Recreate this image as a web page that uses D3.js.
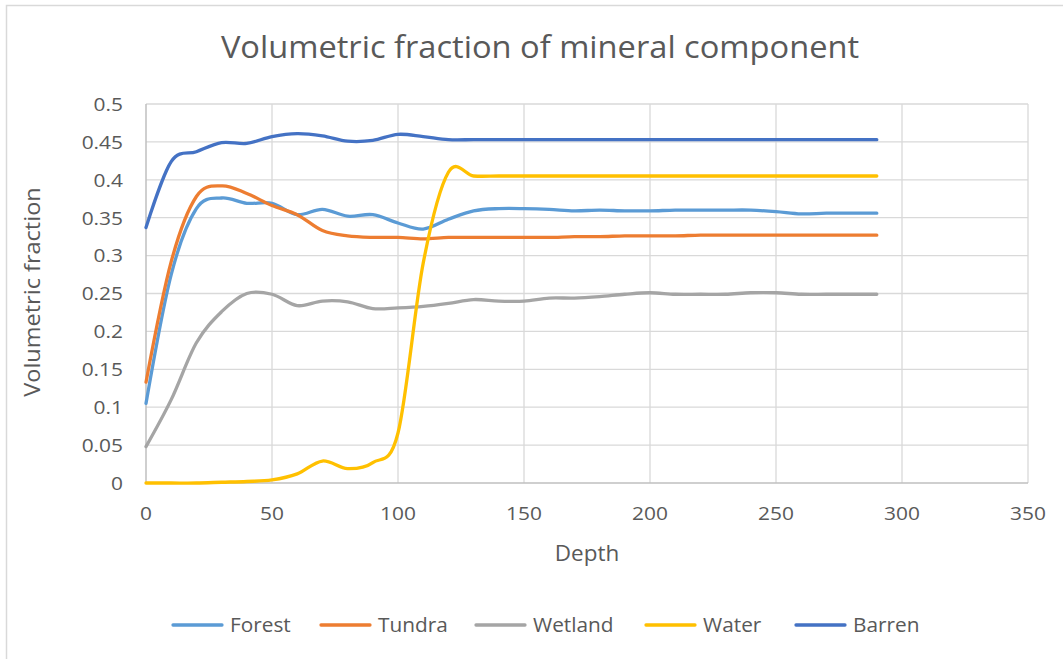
<!DOCTYPE html>
<html>
<head>
<meta charset="utf-8">
<script src="https://cdn.jsdelivr.net/npm/d3@7"></script>
<style>
  body { margin: 0; background: #fff; }
  text { font-family: "Open Sans", sans-serif; fill: #595959; }
</style>
</head>
<body>
<script>
var depth = [0, 10, 20, 30, 40, 50, 60, 70, 80, 90, 100, 110, 120, 130, 140, 150,
             160, 170, 180, 190, 200, 210, 220, 230, 240, 250, 260, 270, 280, 290];

var forest = [0.105, 0.275, 0.362, 0.376, 0.369, 0.369, 0.354, 0.361, 0.352, 0.354, 0.343, 0.335, 0.348, 0.359, 0.362, 0.362,
              0.361, 0.359, 0.360, 0.359, 0.359, 0.360, 0.360, 0.360, 0.360, 0.358, 0.355, 0.356, 0.356, 0.356];
var tundra = [0.133, 0.292, 0.378, 0.392, 0.382, 0.366, 0.354, 0.333, 0.326, 0.324, 0.324, 0.322, 0.324, 0.324, 0.324, 0.324,
              0.324, 0.325, 0.325, 0.326, 0.326, 0.326, 0.327, 0.327, 0.327, 0.327, 0.327, 0.327, 0.327, 0.327];
var wetland = [0.048, 0.110, 0.185, 0.226, 0.250, 0.249, 0.234, 0.240, 0.239, 0.230, 0.231, 0.233, 0.237, 0.242, 0.240, 0.240,
               0.244, 0.244, 0.246, 0.249, 0.251, 0.249, 0.249, 0.249, 0.251, 0.251, 0.249, 0.249, 0.249, 0.249];
var water = [0, 0, 0, 0.001, 0.002, 0.004, 0.012, 0.029, 0.019, 0.027, 0.066, 0.290, 0.410, 0.405, 0.405, 0.405,
             0.405, 0.405, 0.405, 0.405, 0.405, 0.405, 0.405, 0.405, 0.405, 0.405, 0.405, 0.405, 0.405, 0.405];
var barren = [0.337, 0.424, 0.437, 0.449, 0.448, 0.457, 0.461, 0.458, 0.451, 0.452, 0.460, 0.457, 0.453, 0.453, 0.453, 0.453,
              0.453, 0.453, 0.453, 0.453, 0.453, 0.453, 0.453, 0.453, 0.453, 0.453, 0.453, 0.453, 0.453, 0.453];

var seriesNames = ["Forest", "Tundra", "Wetland", "Water", "Barren"];
var seriesValues = [forest, tundra, wetland, water, barren];
var colors = ["#5b9bd5", "#ed7d31", "#a5a5a5", "#ffc000", "#4472c4"];

var xTicks = [0, 50, 100, 150, 200, 250, 300, 350];
var yTicks = [0, 0.05, 0.1, 0.15, 0.2, 0.25, 0.3, 0.35, 0.4, 0.45, 0.5];

var W = 1063, H = 659;
var svg = d3.select("body").append("svg").attr("width", W).attr("height", H);

// text in the original is a bit wider than Open Sans, stretch it sideways
function place(x, y, sx) {
  return "translate(" + x + "," + y + ") scale(" + sx + ",1)";
}

// chart border
svg.append("rect").attr("x", 6.5).attr("y", 5.5).attr("width", W + 10).attr("height", H + 10)
  .attr("fill", "none").attr("stroke", "#d9d9d9").attr("stroke-width", 1.5);

var x = d3.scaleLinear().domain([0, 350]).range([146, 1028]);
var y = d3.scaleLinear().domain([0, 0.5]).range([483, 104]);

// gridlines
svg.append("g").selectAll("line").data(yTicks.slice(1)).enter().append("line")
  .attr("x1", x(0)).attr("x2", x(350))
  .attr("y1", function(d) { return y(d); }).attr("y2", function(d) { return y(d); })
  .attr("stroke", "#d9d9d9").attr("stroke-width", 1.3);
svg.append("g").selectAll("line").data(xTicks.slice(1)).enter().append("line")
  .attr("y1", y(0)).attr("y2", y(0.5))
  .attr("x1", function(d) { return x(d); }).attr("x2", function(d) { return x(d); })
  .attr("stroke", "#d9d9d9").attr("stroke-width", 1.3);

// axis lines
svg.append("line").attr("x1", x(0)).attr("x2", x(0)).attr("y1", y(0)).attr("y2", y(0.5))
  .attr("stroke", "#bfbfbf").attr("stroke-width", 1.5);
svg.append("line").attr("x1", x(0)).attr("x2", x(350)).attr("y1", y(0)).attr("y2", y(0))
  .attr("stroke", "#bfbfbf").attr("stroke-width", 1.5);

// tick labels
svg.append("g").selectAll("text").data(yTicks).enter().append("text")
  .attr("transform", function(d) { return place(123, y(d), 1.1); })
  .attr("dy", "0.36em").attr("text-anchor", "end").style("font-size", "19px")
  .text(function(d) { return String(d); });
svg.append("g").selectAll("text").data(xTicks).enter().append("text")
  .attr("transform", function(d) { return place(x(d), 513, 1.1); })
  .attr("dy", "0.36em").attr("text-anchor", "middle").style("font-size", "19px")
  .text(function(d) { return d; });

// titles
svg.append("text").attr("transform", place(540, 58, 1.07)).attr("text-anchor", "middle")
  .style("font-size", "30.5px").text("Volumetric fraction of mineral component");
svg.append("text").attr("transform", place(587, 553, 1.07)).attr("dy", "0.36em").attr("text-anchor", "middle")
  .style("font-size", "21px").text("Depth");
svg.append("text").attr("transform", "translate(32,292) rotate(-90) scale(1.12,1)").attr("dy", "0.36em")
  .attr("text-anchor", "middle").style("font-size", "21px").text("Volumetric fraction");

// series
var line = d3.line()
  .x(function(d, i) { return x(depth[i]); })
  .y(function(d) { return y(d); })
  .curve(d3.curveCardinal.tension(0));

seriesValues.forEach(function(vals, k) {
  svg.append("path").datum(vals).attr("d", line)
    .attr("fill", "none").attr("stroke", colors[k]).attr("stroke-width", 3.3)
    .attr("stroke-linecap", "round").attr("stroke-linejoin", "round");
});

// legend
var legendX = [173, 321, 476, 646, 796];
var legend = svg.append("g").selectAll("g").data(seriesNames).enter().append("g")
  .attr("transform", function(d, i) { return "translate(" + legendX[i] + ",625)"; });
legend.append("line").attr("x1", 0).attr("x2", 49).attr("y1", 0).attr("y2", 0)
  .attr("stroke", function(d, i) { return colors[i]; }).attr("stroke-width", 3.3)
  .attr("stroke-linecap", "round");
legend.append("text").attr("transform", "translate(57,0) scale(1.04,1)").attr("dy", "0.36em")
  .style("font-size", "20px").text(function(d) { return d; });
</script>
</body>
</html>
